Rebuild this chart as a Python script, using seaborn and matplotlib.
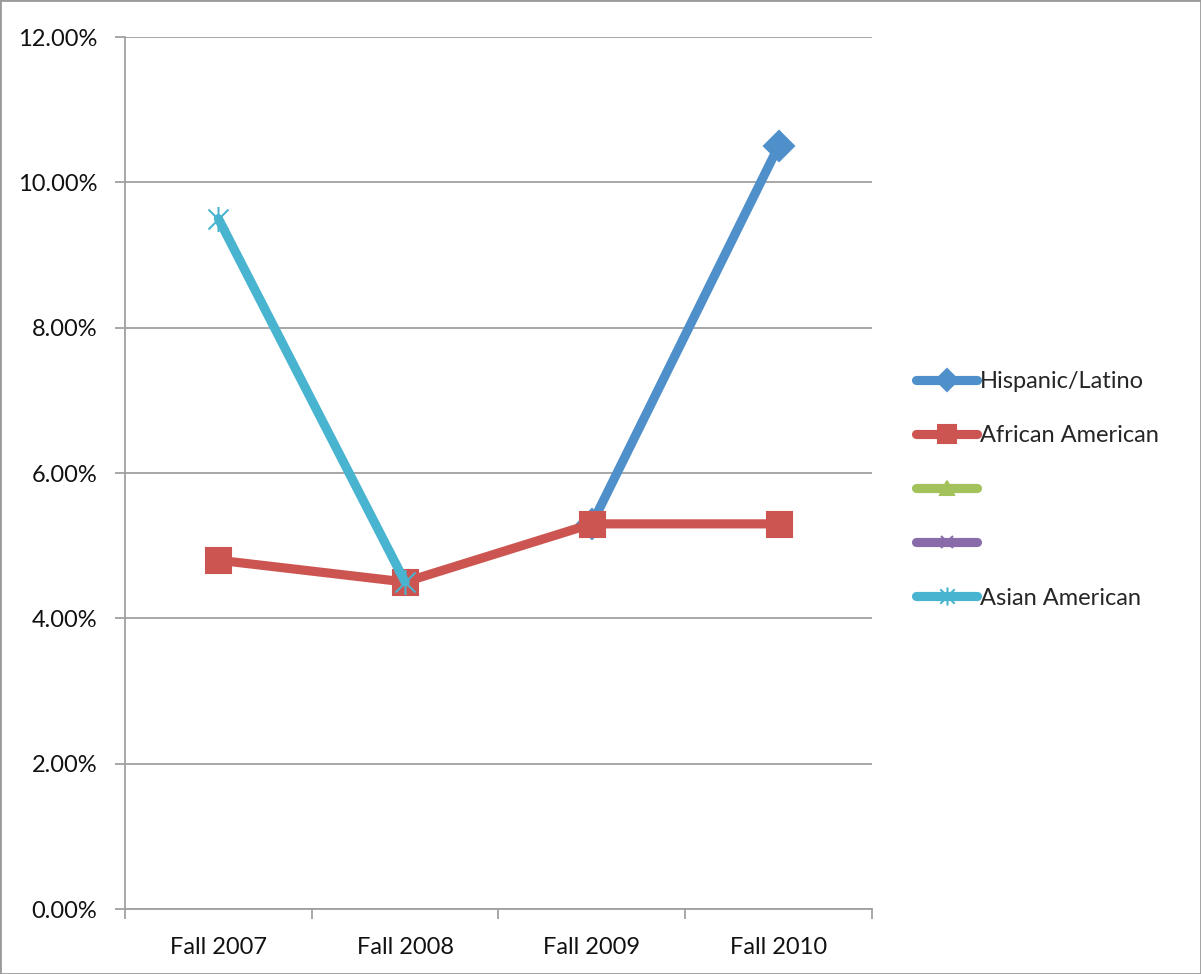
import numpy as np
import pandas as pd
import seaborn as sns
import matplotlib
matplotlib.use("Agg")
import matplotlib.pyplot as plt
from matplotlib.lines import Line2D
from matplotlib.path import Path
from matplotlib.ticker import PercentFormatter, FixedLocator, NullFormatter
from matplotlib.patches import Rectangle

# Enrollment shares by term (percent)
terms = ["Fall 2007", "Fall 2008", "Fall 2009", "Fall 2010"]
hispanic = [np.nan, np.nan, 5.3, 10.5]
african_american = [4.8, 4.5, 5.3, 5.3]
series3 = [np.nan, np.nan, np.nan, np.nan]
series4 = [np.nan, np.nan, np.nan, np.nan]
asian_american = [9.5, 4.5, np.nan, np.nan]
y_ticks = [0, 2, 4, 6, 8, 10, 12]

sns.set_theme(style="white")
plt.rcParams["font.family"] = ["Lato", "DejaVu Sans"]

# Excel-style star marker: an X crossed by a vertical bar
star = Path(
    [(-1, -1), (1, 1), (-1, 1), (1, -1), (0, -1.25), (0, 1.25)],
    [Path.MOVETO, Path.LINETO, Path.MOVETO, Path.LINETO, Path.MOVETO, Path.LINETO],
)

styles = [
    ("Hispanic/Latino", hispanic, "#4F8FCA", "D", 15),
    ("African American", african_american, "#CD5551", "s", 18),
    ("", series3, "#A3C25B", "^", 14),
    ("", series4, "#8A6BAA", "x", 12),
    ("Asian American", asian_american, "#48B4CF", star, 18),
]

fig = plt.figure(figsize=(12.01, 9.74), dpi=100)
ax = fig.add_axes([125 / 1201, 1 - 909 / 974, (872 - 125) / 1201, (909 - 37) / 974])

x_pos = np.arange(len(terms))
handles = []
for name, vals, color, marker, ms in styles:
    df = pd.DataFrame({"x": x_pos, "y": vals}).dropna()
    if len(df):
        sns.lineplot(
            data=df, x="x", y="y", ax=ax, color=color, lw=6.6,
            marker=marker, markersize=ms, markeredgecolor=color,
            markeredgewidth=1.5, solid_capstyle="round", zorder=3,
        )
    handles.append(Line2D([], [], color=color, lw=6.6, marker=marker,
                          markersize=ms * 0.72, markeredgecolor=color,
                          markeredgewidth=1.5, solid_capstyle="round",
                          label=name))

ax.set_xlim(-0.5, len(terms) - 0.5)
ax.set_ylim(0, 12)
ax.set_xlabel("")
ax.set_ylabel("")

# Category axis: ticks on bin boundaries, labels at centers
ax.xaxis.set_major_locator(FixedLocator(np.arange(-0.5, len(terms), 1.0)))
ax.xaxis.set_major_formatter(NullFormatter())
ax.xaxis.set_minor_locator(FixedLocator(x_pos))
ax.set_xticklabels(terms, minor=True)
ax.tick_params(axis="x", which="major", length=7, width=1.3, color="#A0A0A0",
               direction="out", bottom=True)
ax.tick_params(axis="x", which="minor", length=0, pad=20, labelsize=17,
               labelcolor="#111111")

ax.yaxis.set_major_locator(FixedLocator(y_ticks))
ax.yaxis.set_major_formatter(PercentFormatter(xmax=100, decimals=2))
ax.tick_params(axis="y", length=7, width=1.3, color="#A0A0A0", direction="out",
               left=True, pad=13, labelsize=17, labelcolor="#111111")

ax.grid(axis="y", color="#A0A0A0", lw=1.3)
ax.set_axisbelow(True)
for side in ["top", "right"]:
    ax.spines[side].set_visible(False)
for side in ["left", "bottom"]:
    ax.spines[side].set_color("#A0A0A0")
    ax.spines[side].set_linewidth(1.3)

fig.legend(handles=handles, loc="center left", bbox_to_anchor=(916 / 1201, 1 - 490 / 974),
           frameon=False, fontsize=17, handlelength=2.6, handletextpad=0.1,
           labelspacing=1.4, borderpad=0, borderaxespad=0)

# Outer chart border
fig.patches.append(Rectangle((0, 0), 1, 1, transform=fig.transFigure, fill=False,
                             edgecolor="#9A9A9A", lw=2, zorder=10))

fig.savefig("out.png", dpi=100)
